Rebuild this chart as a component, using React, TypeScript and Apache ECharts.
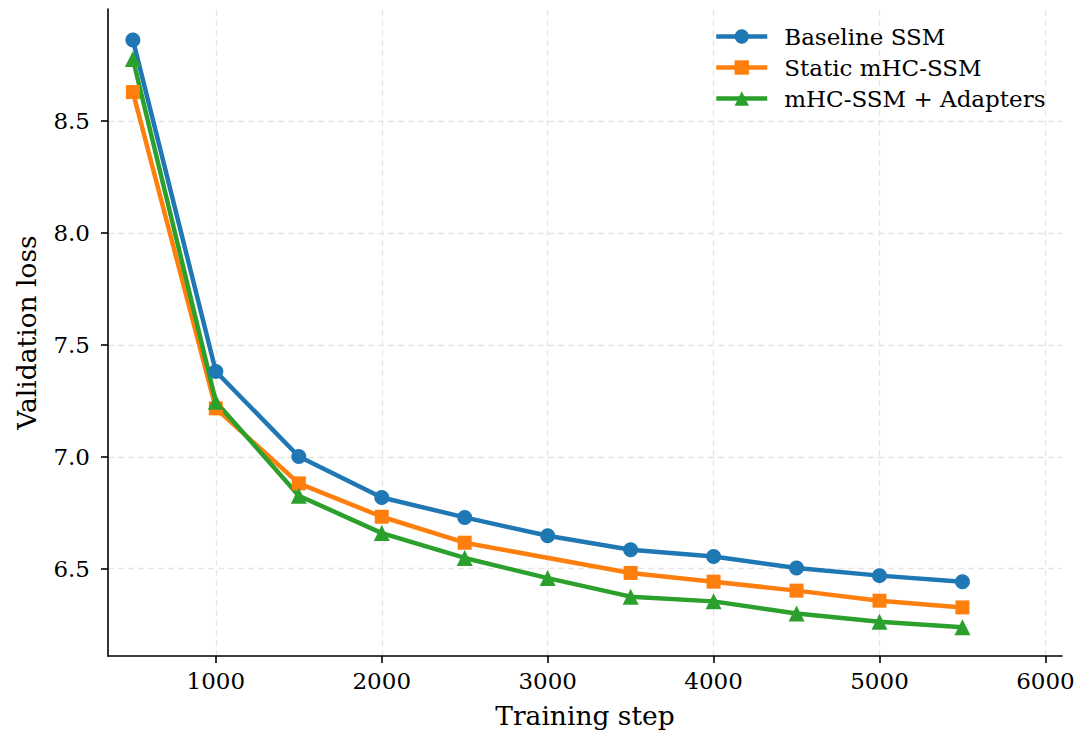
import React, { useEffect, useRef } from "react";
import * as echarts from "echarts";

const steps = [500, 1000, 1500, 2000, 2500, 3000, 3500, 4000, 4500, 5000, 5500];
const baselineSSM = [8.862, 7.381, 7.001, 6.818, 6.729, 6.647, 6.585, 6.554, 6.503, 6.469, 6.442];
const staticMhcSSM = [8.629, 7.216, 6.881, 6.732, 6.616, null, 6.481, 6.442, 6.402, 6.357, 6.327];
const mhcAdapters = [8.777, 7.246, 6.826, 6.659, 6.548, 6.458, 6.375, 6.354, 6.3, 6.263, 6.238];
const xTicks = [1000, 2000, 3000, 4000, 5000, 6000];
const yTicks = [6.5, 7.0, 7.5, 8.0, 8.5];
const seriesNames = ["Baseline SSM", "Static mHC-SSM", "mHC-SSM + Adapters"];

const FONT = "DejaVu Serif";

export default function App() {
  const ref = useRef<HTMLDivElement>(null);
  useEffect(() => {
    if (!ref.current) return;
    const chart = echarts.init(ref.current, undefined, { renderer: "svg" });
    const pair = (ys: (number | null)[]) => steps.map((x, i) => [x, ys[i]]);
    const gridLineStyle = { color: "#e6e6e6", type: [6, 4] as any, width: 1.3 };
    const mkSeries = (name: string, ys: (number | null)[], color: string, symbol: string, size: number) => ({
      name,
      type: "line",
      data: pair(ys),
      connectNulls: true,
      symbol,
      symbolSize: size,
      showAllSymbol: true,
      itemStyle: { color },
      lineStyle: { color, width: 4.5 },
      emphasis: { disabled: true },
    });
    chart.setOption({
      animation: false,
      backgroundColor: "#ffffff",
      grid: { left: 108, right: 17, top: 9, bottom: 80, containLabel: false },
      legend: {
        orient: "vertical",
        left: 709,
        top: 20,
        itemWidth: 51,
        itemHeight: 18,
        itemGap: 8,
        data: seriesNames,
        lineStyle: { width: 4.5 },
        textStyle: { fontFamily: FONT, fontSize: 23, color: "#000", padding: [0, 0, 0, 12] },
      },
      xAxis: {
        type: "value",
        min: 350,
        max: 6100,
        name: "Training step",
        nameLocation: "middle",
        nameGap: 46,
        nameTextStyle: { fontFamily: FONT, fontSize: 26.5, color: "#000" },
        axisLine: { show: true, lineStyle: { color: "#000", width: 1.6 } },
        axisTick: { show: true, customValues: xTicks, length: 7, lineStyle: { color: "#000", width: 1.6 } },
        axisLabel: {
          customValues: xTicks,
          fontFamily: FONT,
          fontSize: 23,
          color: "#000",
          margin: 13,
          formatter: (v: number) => String(v),
        },
        splitLine: { show: false },
      },
      yAxis: {
        type: "value",
        min: 6.11,
        max: 9.0,
        name: "Validation loss",
        nameLocation: "middle",
        nameGap: 68,
        nameTextStyle: { fontFamily: FONT, fontSize: 26.5, color: "#000" },
        axisLine: { show: true, lineStyle: { color: "#000", width: 1.6 } },
        axisTick: { show: true, customValues: yTicks, length: 7, lineStyle: { color: "#000", width: 1.6 } },
        axisLabel: {
          customValues: yTicks,
          fontFamily: FONT,
          fontSize: 23,
          color: "#000",
          margin: 18,
          formatter: (v: number) => v.toFixed(1),
        },
        splitLine: { show: false },
      },
      series: [
        {
          name: "__grid",
          type: "line",
          data: [],
          silent: true,
          z: 0,
          markLine: {
            silent: true,
            z: 0,
            symbol: ["none", "none"],
            label: { show: false },
            lineStyle: gridLineStyle,
            emphasis: { disabled: true },
            data: [
              ...xTicks.map((v) => ({ xAxis: v })),
              ...yTicks.map((v) => ({ yAxis: v })),
            ],
          },
        },
        mkSeries(seriesNames[0], baselineSSM, "#1f77b4", "circle", 15),
        mkSeries(seriesNames[1], staticMhcSSM, "#ff7f0e", "rect", 14),
        mkSeries(seriesNames[2], mhcAdapters, "#2ca02c", "triangle", 16),
      ],
    });
    return () => chart.dispose();
  }, []);
  return <div ref={ref} style={{ width: 1079, height: 736, position: "absolute", left: 0, top: 0 }} />;
}
